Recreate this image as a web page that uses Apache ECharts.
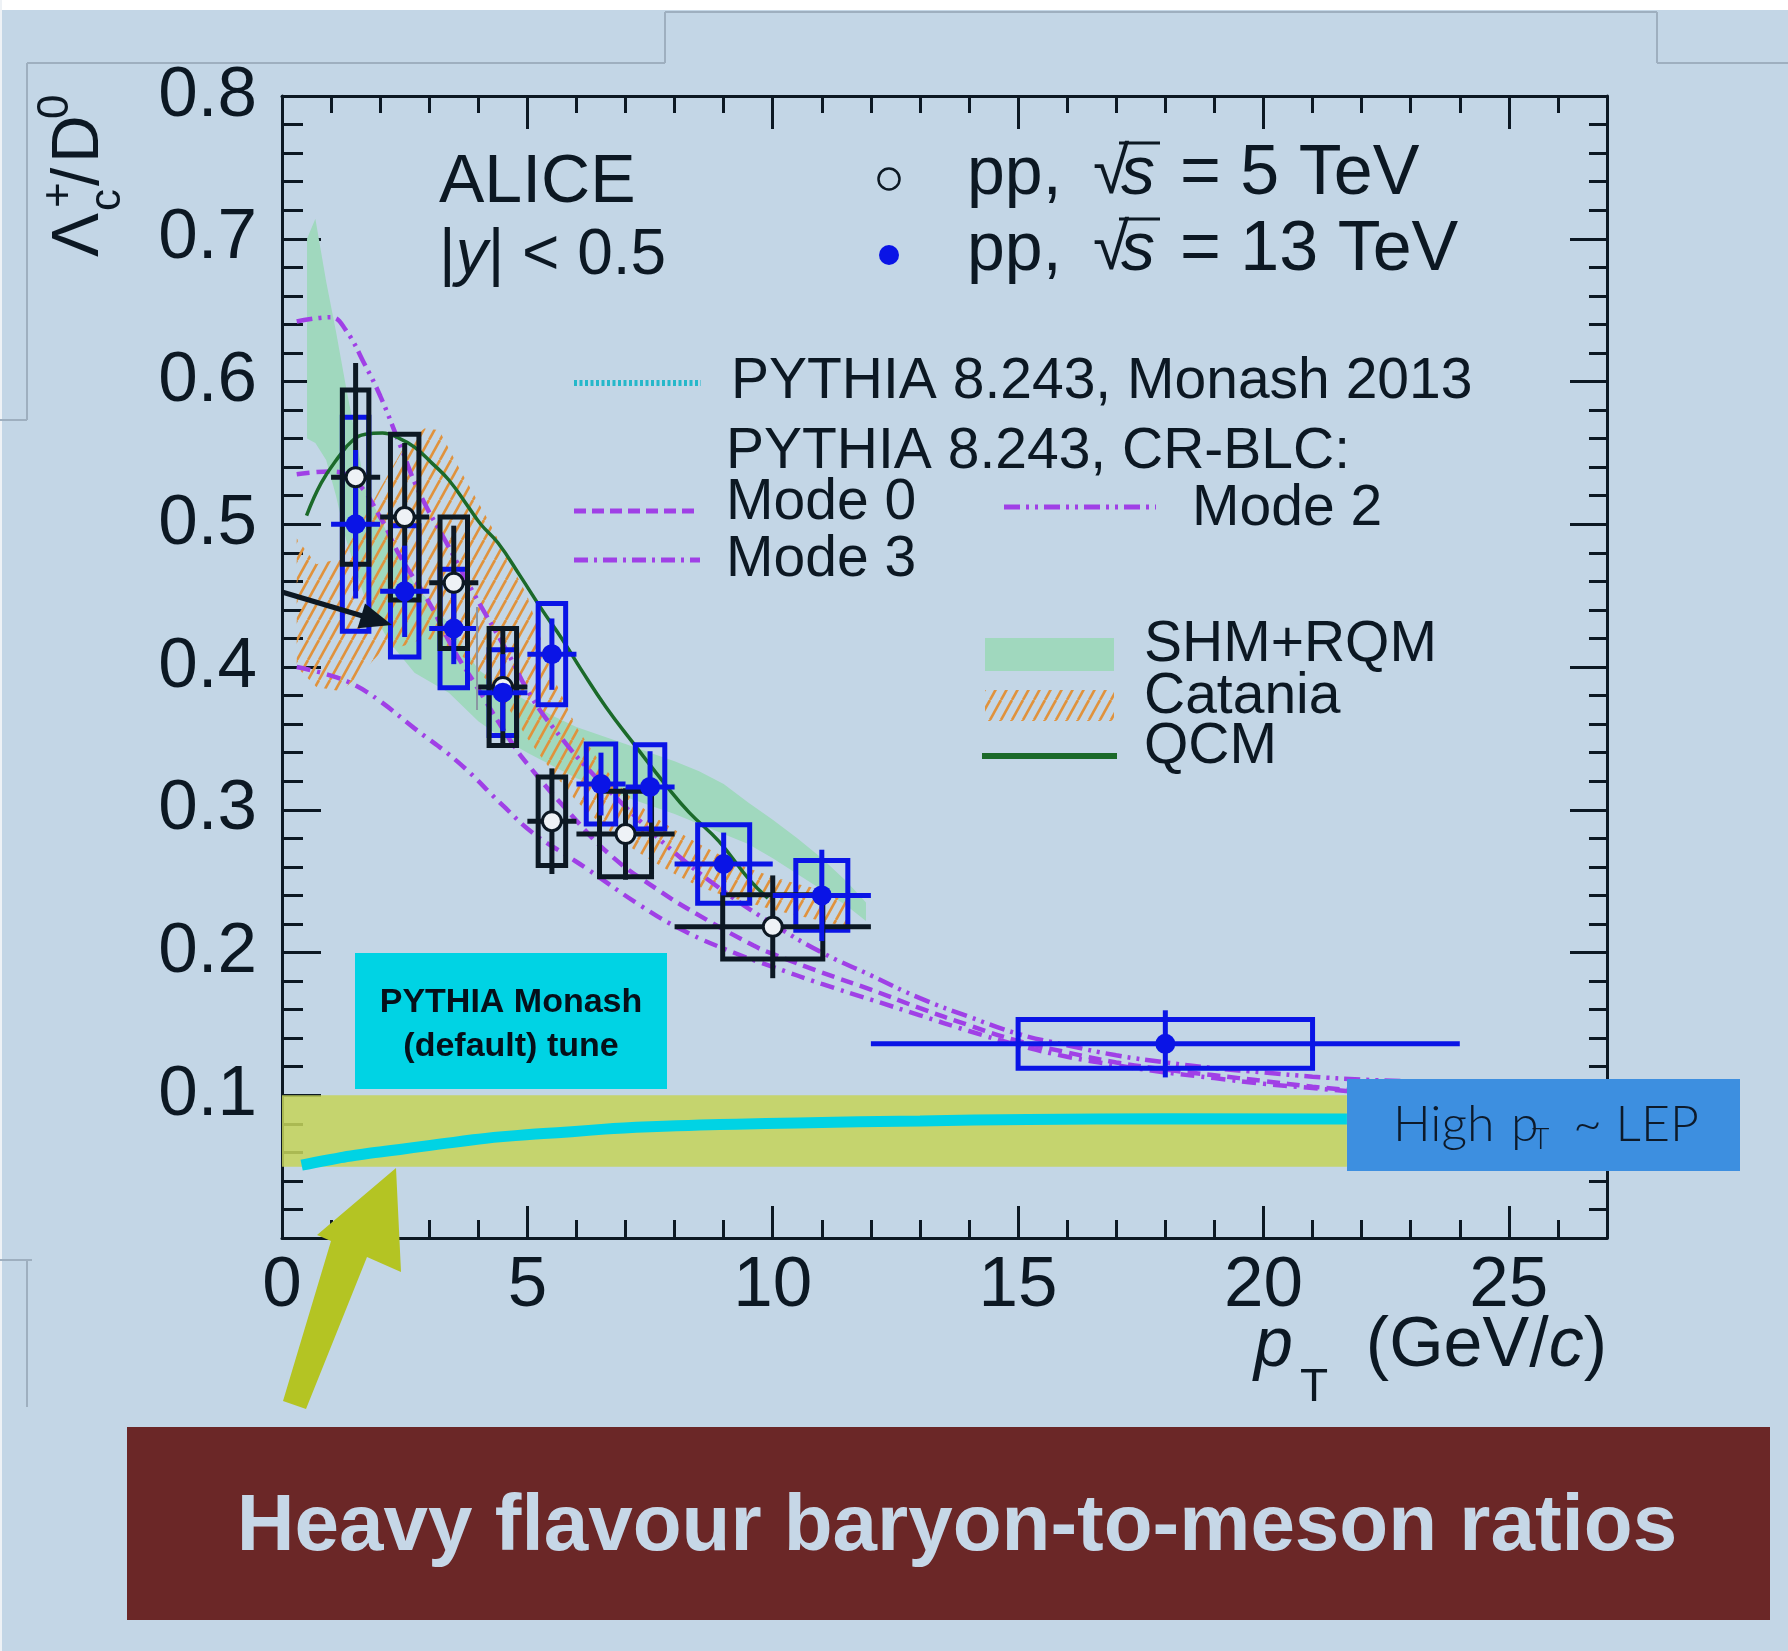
<!DOCTYPE html>
<html>
<head>
<meta charset="utf-8">
<script src="https://cdn.jsdelivr.net/npm/echarts@6/dist/echarts.min.js"></script>
<style>
html,body{margin:0;padding:0;background:#c3d6e6;}
#c{width:1788px;height:1651px;}
</style>
</head>
<body>
<div id="c"></div>
<script>
// ---------------- data ----------------
const xTickValues = [0, 5, 10, 15, 20, 25];
const xTickLabels = ['0', '5', '10', '15', '20', '25'];
const yTickValues = [0.1, 0.2, 0.3, 0.4, 0.5, 0.6, 0.7, 0.8];
const yTickLabels = ['0.1', '0.2', '0.3', '0.4', '0.5', '0.6', '0.7', '0.8'];

// ALICE pp 5 TeV (open black)
const pt5      = [1.5, 2.5, 3.5, 4.5, 5.5, 7, 10];
const ptHalf5  = [0.5, 0.5, 0.5, 0.5, 0.5, 1, 2];
const ratio5   = [0.533, 0.505, 0.459, 0.386, 0.292, 0.283, 0.218];
const stat5    = [0.080, 0.052, 0.040, 0.040, 0.037, 0.032, 0.036];
const syst5    = [0.061, 0.058, 0.046, 0.041, 0.031, 0.030, 0.0225];
const boxHalf5 = [0.27, 0.29, 0.28, 0.28, 0.28, 0.53, 1.02];

// ALICE pp 13 TeV (filled blue)
const pt13      = [1.5, 2.5, 3.5, 4.5, 5.5, 6.5, 7.5, 9, 11, 18];
const ptHalf13  = [0.5, 0.5, 0.5, 0.5, 0.5, 0.5, 0.5, 1, 1, 6];
const ratio13   = [0.500, 0.453, 0.427, 0.382, 0.409, 0.318, 0.316, 0.262, 0.240, 0.136];
const stat13    = [0.052, 0.032, 0.025, 0.027, 0.025, 0.022, 0.025, 0.022, 0.032, 0.0235];
const syst13    = [0.075, 0.046, 0.0415, 0.030, 0.0355, 0.028, 0.0295, 0.0275, 0.0245, 0.017];
const boxHalf13 = [0.27, 0.29, 0.28, 0.28, 0.28, 0.30, 0.30, 0.53, 0.53, 3.0];

// SHM+RQM band
const shmPt   = [0.51, 0.68, 0.9, 1.1, 1.3, 1.7, 2.2, 2.7, 3.4, 4.0, 4.5, 5.0, 5.5, 6.0, 6.5, 7.0, 7.5, 8.0, 8.5, 9.0, 9.5, 10.0, 10.5, 11.0, 11.5, 11.9];
const shmLow  = [0.560, 0.557, 0.545, 0.520, 0.490, 0.447, 0.417, 0.396, 0.382, 0.362, 0.350, 0.340, 0.331, 0.322, 0.316, 0.309, 0.303, 0.297, 0.290, 0.283, 0.276, 0.266, 0.255, 0.244, 0.233, 0.222];
const shmHigh = [0.700, 0.714, 0.670, 0.635, 0.597, 0.525, 0.490, 0.458, 0.430, 0.398, 0.386, 0.376, 0.366, 0.358, 0.352, 0.346, 0.340, 0.334, 0.327, 0.318, 0.305, 0.293, 0.280, 0.266, 0.250, 0.235];

// Catania band
const catPt   = [0.3, 0.7, 1.2, 1.6, 2.0, 2.5, 2.9, 3.2, 3.6, 4.2, 4.6, 5.0, 5.5, 6.0, 6.5, 7.0, 7.5, 8.0, 8.5, 9.0, 9.5, 10.0, 10.5, 11.0, 11.5];
const catLow  = [0.400, 0.386, 0.383, 0.395, 0.410, 0.415, 0.420, 0.418, 0.410, 0.390, 0.372, 0.350, 0.327, 0.306, 0.290, 0.276, 0.265, 0.255, 0.246, 0.240, 0.235, 0.230, 0.226, 0.222, 0.218];
const catHigh = [0.490, 0.472, 0.476, 0.500, 0.525, 0.555, 0.567, 0.566, 0.540, 0.503, 0.476, 0.450, 0.395, 0.358, 0.332, 0.312, 0.297, 0.286, 0.276, 0.267, 0.259, 0.253, 0.248, 0.244, 0.240];

// QCM
const qcm = [[0.5,0.506],[0.8,0.529],[1.15,0.547],[1.45,0.559],[1.7,0.563],[2.05,0.564],[2.4,0.560],[2.7,0.554],[3.05,0.543],[3.4,0.531],[3.8,0.512],[4.05,0.500],[4.4,0.487],[4.85,0.464],[5.3,0.440],[5.7,0.420],[6.1,0.398],[6.6,0.372],[7.15,0.347],[7.85,0.316],[8.3,0.298],[8.9,0.278],[9.5,0.252],[9.9,0.238]];

// PYTHIA CR-BLC modes
const mode0 = [[0.3,0.535],[1.0,0.537],[1.5,0.530],[2.0,0.505],[2.4,0.478],[3.0,0.445],[3.5,0.412],[3.9,0.390],[4.7,0.346],[5.05,0.330],[5.8,0.300],[6.7,0.268],[7.7,0.243],[8.5,0.226],[9.6,0.205],[10,0.199],[11,0.186],[12,0.174],[13,0.161],[14,0.149],[15,0.138],[16,0.130],[17,0.123],[18,0.118],[19,0.114],[20,0.110],[21,0.106],[22,0.103]];
const mode2 = [[0.3,0.642],[1.0,0.645],[1.3,0.636],[1.7,0.611],[2.0,0.590],[2.4,0.556],[2.8,0.522],[3.4,0.484],[3.9,0.452],[4.6,0.410],[5.1,0.378],[5.7,0.350],[6.2,0.330],[7.0,0.302],[8.0,0.270],[9.0,0.243],[10.0,0.220],[11.0,0.200],[12.0,0.184],[13.0,0.168],[14.0,0.155],[15.0,0.143],[16.0,0.135],[17.0,0.128],[18.0,0.123],[19.0,0.119],[20.0,0.116],[21.0,0.113],[22.0,0.111],[22.8,0.110]];
const mode3 = [[0.3,0.400],[1.0,0.394],[1.5,0.387],[2.0,0.376],[2.7,0.357],[3.6,0.333],[4.5,0.303],[5.1,0.284],[5.8,0.268],[6.2,0.259],[7.3,0.233],[8.2,0.215],[9.2,0.200],[10,0.190],[11,0.178],[12,0.167],[13,0.156],[14,0.145],[15,0.135],[16,0.127],[17,0.121],[18,0.116],[19,0.112],[20,0.108],[21,0.105],[22,0.102]];

// PYTHIA Monash (overlay curve) and LEP band
const monash = [[0.4,0.051],[1.0,0.055],[1.5,0.058],[2.4,0.062],[3.5,0.067],[4.5,0.071],[5.9,0.0745],[7.5,0.078],[10.5,0.0805],[13,0.082],[15.2,0.083],[18,0.0835],[21.7,0.0833]];
const lepBand = [[0, 21.7, 0.05, 0.10]];

// ---------------- styles ----------------
const FONT = '"Liberation Sans", Arial, Helvetica, sans-serif';
const INK = '#0c1823';
const BLUE = '#0a14e6';
const PURPLE = '#a040e6';
const GREEN_BAND = '#a0d8be';
const QCM_COL = '#1b6a2a';

function makeHatch() {
  const c = document.createElement('canvas');
  c.width = 11; c.height = 20;
  const g = c.getContext('2d');
  g.strokeStyle = '#e0923c';
  g.lineWidth = 2.6;
  [-11, 0, 11].forEach(function (dx) {
    g.beginPath(); g.moveTo(dx, 20); g.lineTo(dx + 11, 0); g.stroke();
  });
  return c;
}
const HATCH = { image: makeHatch(), repeat: 'repeat' };

const chart = echarts.init(document.getElementById('c'), null, { renderer: 'canvas', width: 1788, height: 1651 });

function bandSeries(pt, lo, hi, fill, z) {
  return {
    type: 'custom', coordinateSystem: 'cartesian2d', silent: true, clip: false, z: z,
    data: [[pt[0], lo[0]]],
    renderItem: function (params, api) {
      const pts = [];
      for (let i = 0; i < pt.length; i++) pts.push(api.coord([pt[i], hi[i]]));
      for (let i = pt.length - 1; i >= 0; i--) pts.push(api.coord([pt[i], lo[i]]));
      return { type: 'polygon', shape: { points: pts }, style: { fill: fill, stroke: 'none' } };
    }
  };
}

function boxSeries(pt, val, bw, sy, color, z) {
  return {
    type: 'custom', silent: true, clip: false, z: z,
    data: pt.map(function (p, i) { return [p, val[i], bw[i], sy[i]]; }),
    renderItem: function (params, api) {
      const x = api.value(0), y = api.value(1), w = api.value(2), s = api.value(3);
      const a = api.coord([x - w, y + s]);
      const b = api.coord([x + w, y - s]);
      return { type: 'rect', shape: { x: a[0], y: a[1], width: b[0] - a[0], height: b[1] - a[1] },
               style: { fill: 'none', stroke: color, lineWidth: 5 } };
    }
  };
}

function statSeries(pt, half, val, st, color, z) {
  return {
    type: 'custom', silent: true, clip: false, z: z,
    data: pt.map(function (p, i) { return [p, val[i], half[i], st[i]]; }),
    renderItem: function (params, api) {
      const x = api.value(0), y = api.value(1), h = api.value(2), s = api.value(3);
      const l = api.coord([x - h, y]), r = api.coord([x + h, y]);
      const t = api.coord([x, y + s]), b = api.coord([x, y - s]);
      return { type: 'group', children: [
        { type: 'line', shape: { x1: l[0], y1: l[1], x2: r[0], y2: r[1] }, style: { stroke: color, lineWidth: 5 } },
        { type: 'line', shape: { x1: t[0], y1: t[1], x2: b[0], y2: b[1] }, style: { stroke: color, lineWidth: 5 } }
      ] };
    }
  };
}

function modelLine(data, color, width, dash, z) {
  return { type: 'line', data: data, showSymbol: false, symbol: 'none', silent: true, z: z,
           smooth: 0.45,
           lineStyle: { color: color, width: width, type: dash } };
}

// graphic helpers
function T(x, y, text, size, extra) {
  const st = { text: text, fontSize: size, fontFamily: FONT, fill: INK,
               align: 'left', verticalAlign: 'middle', textAlign: 'left', textVerticalAlign: 'middle' };
  if (extra) Object.assign(st, extra);
  return { type: 'text', x: x, y: y, z: 50, style: st };
}
function RT(x, y, text, size, rot, extra) {
  const e = T(x, y, text, size, extra);
  e.rotation = rot;
  return e;
}
function L(x1, y1, x2, y2, color, w, dash, z) {
  return { type: 'line', z: z || 50, shape: { x1: x1, y1: y1, x2: x2, y2: y2 },
           style: { stroke: color, lineWidth: w, lineDash: dash || null } };
}
function R(x, y, w, h, fill, z) {
  return { type: 'rect', z: z || 50, shape: { x: x, y: y, width: w, height: h }, style: { fill: fill } };
}

const ART = '#9eafbf';
const LATO = 'Lato, "Open Sans", sans-serif';
function lepText(x, y, text, size) {
  return { type: 'text', x: x, y: y, z: 101, style: { text: text, fontSize: size, fontWeight: 300, fontFamily: LATO, fill: '#0d1a2a', align: 'left', verticalAlign: 'middle', textAlign: 'left', textVerticalAlign: 'middle' } };
}
const graphics = [
  // page frame artefacts
  R(0, 0, 1788, 10, '#ffffff', 1),
  R(0, 0, 2, 1651, '#eef2f6', 1),
  L(27, 63, 665, 63, ART, 2, null, 1),
  L(665, 12, 665, 63, ART, 2, null, 1),
  L(665, 12, 1657, 12, ART, 2, null, 1),
  L(1657, 12, 1657, 63, ART, 2, null, 1),
  L(1657, 63, 1788, 63, ART, 2, null, 1),
  L(27, 63, 27, 420, ART, 2, null, 1),
  L(0, 420, 27, 420, ART, 2, null, 1),
  L(0, 1260, 32, 1260, ART, 2, null, 1),
  L(27, 1260, 27, 1407, ART, 2, null, 1),
  L(477, 607, 477, 710, '#8a96a2', 2, null, 20),

  // y-axis title  Λc+/D0  (rotated)
  RT(80, 257, 'Λ', 66, Math.PI / 2),
  RT(108, 211, 'c', 44, Math.PI / 2),
  RT(60, 208, '+', 44, Math.PI / 2),
  RT(80, 186, '/', 66, Math.PI / 2),
  RT(80, 163, 'D', 66, Math.PI / 2),
  RT(56, 119, '0', 44, Math.PI / 2),

  // x-axis title  pT (GeV/c)
  T(1254, 1347, 'p', 70, { fontStyle: 'italic' }),
  T(1300, 1388, 'T', 46),
  T(1607, 1347, '{n|(GeV/}{i|c}{n|)}', 70, { align: 'right', textAlign: 'right',
     rich: { n: { fontSize: 70, fontFamily: FONT, fill: INK }, i: { fontSize: 70, fontFamily: FONT, fill: INK, fontStyle: 'italic' } } }),

  // ALICE block
  T(439, 183, 'ALICE', 68),
  T(439, 256, '{n||}{i|y}{n|| < 0.5}', 64, {
     rich: { n: { fontSize: 64, fontFamily: FONT, fill: INK }, i: { fontSize: 64, fontFamily: FONT, fill: INK, fontStyle: 'italic' } } }),

  // data legend
  { type: 'circle', z: 50, shape: { cx: 889, cy: 179, r: 10.5 }, style: { fill: 'none', stroke: INK, lineWidth: 2.5 } },
  { type: 'circle', z: 50, shape: { cx: 889, cy: 255, r: 10 }, style: { fill: BLUE } },
  T(967, 175, 'pp,', 68),
  T(1093, 175, '√', 66),
  T(1121, 175, 's', 68, { fontStyle: 'italic' }),
  L(1119, 143, 1160, 143, INK, 3),
  T(1180, 175, '= 5 TeV', 70),
  T(967, 251, 'pp,', 68),
  T(1093, 251, '√', 66),
  T(1121, 251, 's', 68, { fontStyle: 'italic' }),
  L(1119, 219, 1160, 219, INK, 3),
  T(1180, 251, '= 13 TeV', 70),

  // model legend
  L(574, 383, 701, 383, '#25b8ca', 6, [3, 2.5]),
  T(731, 382, 'PYTHIA 8.243, Monash 2013', 57),
  T(726, 452, 'PYTHIA 8.243, CR-BLC:', 57),
  L(574, 511, 697, 511, PURPLE, 5, [12, 6]),
  T(726, 503, 'Mode 0', 57),
  L(1004, 507, 1156, 507, PURPLE, 5, [16, 6, 3, 6, 3, 6]),
  T(1192, 509, 'Mode 2', 57),
  L(574, 560, 700, 560, PURPLE, 5, [14, 6, 3, 6]),
  T(726, 560, 'Mode 3', 57),
  R(985, 638, 129, 33, GREEN_BAND),
  T(1144, 645, 'SHM+RQM', 57),
  R(985, 690, 129, 31, HATCH),
  T(1144, 697, 'Catania', 57),
  L(982, 756, 1117, 756, QCM_COL, 6),
  T(1144, 747, 'QCM', 57),

  // black arrow in plot
  L(282, 592, 366, 617, INK, 5, null, 60),
  { type: 'polygon', z: 60, shape: { points: [[392, 625], [357.6, 628.3], [365, 603.4]] }, style: { fill: INK } },

  // PYTHIA Monash label box
  R(355, 953, 312, 136, '#00d3e4', 100),
  { type: 'text', x: 511, y: 1003, z: 101, style: { text: 'PYTHIA Monash', fontSize: 34, fontWeight: 'bold', fontFamily: FONT, fill: '#05101a', align: 'center', verticalAlign: 'middle', textAlign: 'center', textVerticalAlign: 'middle' } },
  { type: 'text', x: 511, y: 1047, z: 101, style: { text: '(default) tune', fontSize: 34, fontWeight: 'bold', fontFamily: FONT, fill: '#05101a', align: 'center', verticalAlign: 'middle', textAlign: 'center', textVerticalAlign: 'middle' } },

  // High pT ~ LEP box
  R(1347, 1079, 393, 92, '#3d8fe0', 100),
  lepText(1393, 1125, 'High', 50),
  lepText(1511, 1125, 'p', 50),
  lepText(1532, 1139, 'T', 30),
  lepText(1573, 1125, '~ LEP', 50),

  // yellow-green arrow
  { type: 'polygon', z: 100, shape: { points: [[396, 1168], [401, 1272], [367, 1257], [306, 1409], [283, 1401], [331, 1241], [317, 1235]] }, style: { fill: '#b4c423' } },

  // banner
  R(127, 1427, 1643, 193, '#6b2727', 100),
  { type: 'text', x: 957, y: 1528, z: 101, style: { text: 'Heavy flavour baryon-to-meson ratios', fontSize: 80, fontWeight: 'bold', fontFamily: FONT, fill: '#c6d7e7', align: 'center', verticalAlign: 'middle', textAlign: 'center', textVerticalAlign: 'middle' } }
];

function xFmt(v) { const i = xTickValues.indexOf(v); return i >= 0 ? xTickLabels[i] : ''; }
function yFmt(v) {
  for (let i = 0; i < yTickValues.length; i++) if (Math.abs(v - yTickValues[i]) < 1e-6) return yTickLabels[i];
  return '';
}
const tickStyle = { color: INK, width: 3 };

const option = {
  backgroundColor: '#c3d6e6',
  animation: false,
  grid: { left: 282, top: 96, width: 1325, height: 1142, containLabel: false, outerBoundsMode: 'none', show: false },
  xAxis: [
    { type: 'value', min: 0, max: 27, interval: 5, position: 'bottom',
      axisLine: { show: true, onZero: false, lineStyle: tickStyle },
      axisTick: { show: true, inside: true, length: 32, lineStyle: tickStyle },
      axisLabel: { show: true, margin: 13, fontSize: 71, fontFamily: FONT, color: INK, formatter: xFmt },
      splitLine: { show: false } },
    { type: 'value', min: 0, max: 27, interval: 1, position: 'bottom',
      axisLine: { show: false, onZero: false }, axisTick: { show: true, inside: true, length: 18, lineStyle: tickStyle },
      axisLabel: { show: false }, splitLine: { show: false } },
    { type: 'value', min: 0, max: 27, interval: 5, position: 'top',
      axisLine: { show: true, onZero: false, lineStyle: tickStyle },
      axisTick: { show: true, inside: true, length: 33, lineStyle: tickStyle },
      axisLabel: { show: false }, splitLine: { show: false } },
    { type: 'value', min: 0, max: 27, interval: 1, position: 'top',
      axisLine: { show: false, onZero: false }, axisTick: { show: true, inside: true, length: 17, lineStyle: tickStyle },
      axisLabel: { show: false }, splitLine: { show: false } }
  ],
  yAxis: [
    { type: 'value', min: 0, max: 0.8, interval: 0.1, position: 'left',
      axisLine: { show: true, onZero: false, lineStyle: tickStyle },
      axisTick: { show: true, inside: true, length: 39, lineStyle: tickStyle },
      minorTick: { show: true, splitNumber: 5, length: 21, lineStyle: tickStyle },
      axisLabel: { show: true, margin: 25, fontSize: 71, fontFamily: FONT, color: INK, formatter: yFmt },
      splitLine: { show: false }, minorSplitLine: { show: false } },
    { type: 'value', min: 0, max: 0.8, interval: 0.1, position: 'right',
      axisLine: { show: true, onZero: false, lineStyle: tickStyle },
      axisTick: { show: true, inside: true, length: 37, lineStyle: tickStyle },
      minorTick: { show: true, splitNumber: 5, length: 18, lineStyle: tickStyle },
      axisLabel: { show: false }, splitLine: { show: false }, minorSplitLine: { show: false } }
  ],
  series: [
    bandSeries(shmPt, shmLow, shmHigh, GREEN_BAND, 2),
    bandSeries(catPt, catLow, catHigh, HATCH, 3),
    modelLine(mode3, PURPLE, 4.5, [14, 7, 3, 7], 4),
    modelLine(mode0, PURPLE, 4.5, [13, 7], 4),
    modelLine(mode2, PURPLE, 4.5, [16, 6, 3, 6, 3, 6], 4),
    modelLine(qcm, QCM_COL, 3.5, 'solid', 5),
    boxSeries(pt13, ratio13, boxHalf13, syst13, BLUE, 6),
    boxSeries(pt5, ratio5, boxHalf5, syst5, INK, 7),
    statSeries(pt5, ptHalf5, ratio5, stat5, INK, 8),
    statSeries(pt13, ptHalf13, ratio13, stat13, BLUE, 9),
    { type: 'scatter', silent: true, z: 10, symbol: 'circle', symbolSize: 19,
      data: pt5.map(function (p, i) { return [p, ratio5[i]]; }),
      itemStyle: { color: '#eef2f6', borderColor: INK, borderWidth: 3, opacity: 1 } },
    { type: 'scatter', silent: true, z: 11, symbol: 'circle', symbolSize: 20,
      data: pt13.map(function (p, i) { return [p, ratio13[i]]; }),
      itemStyle: { color: BLUE, opacity: 1 } },
    // LEP band overlay
    { type: 'custom', silent: true, clip: false, z: 12, data: lepBand,
      renderItem: function (params, api) {
        const a = api.coord([api.value(0), api.value(3)]);
        const b = api.coord([api.value(1), api.value(2)]);
        return { type: 'rect', shape: { x: a[0], y: a[1], width: b[0] - a[0], height: b[1] - a[1] },
                 style: { fill: 'rgba(197,212,90,0.86)' } };
      } },
    // PYTHIA Monash curve (overlay)
    { type: 'line', data: monash, showSymbol: false, symbol: 'none', silent: true, z: 13,
      smooth: 0.6, lineStyle: { color: '#00d3e4', width: 11, cap: 'butt' } }
  ],
  graphic: { elements: graphics }
};
chart.setOption(option);
</script>
</body>
</html>
